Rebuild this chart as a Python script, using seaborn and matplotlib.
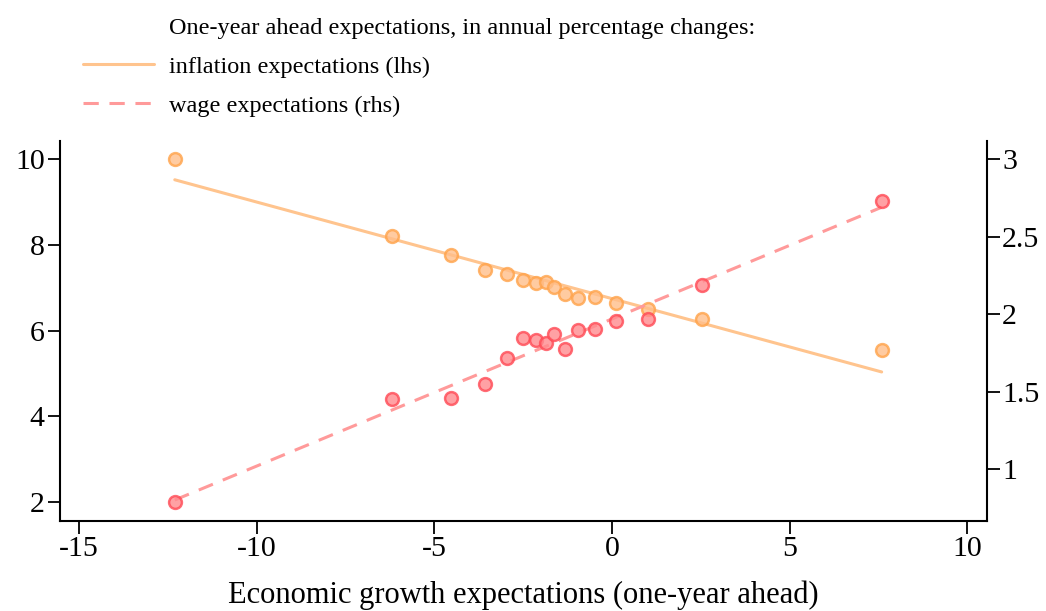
import matplotlib
matplotlib.use("Agg")
import matplotlib.pyplot as plt
import seaborn as sns
import pandas as pd
import numpy as np
from matplotlib.lines import Line2D

growth = [-12.31, -6.20, -4.52, -3.59, -2.97, -2.50, -2.13, -1.85, -1.63, -1.32,
          -0.96, -0.49, 0.12, 1.00, 2.53, 7.59]
inflation = [10.0, 8.21, 7.76, 7.41, 7.31, 7.18, 7.10, 7.14, 7.02, 6.85,
             6.77, 6.79, 6.65, 6.50, 6.28, 5.55]
wages = [0.79, 1.454, 1.458, 1.548, 1.716, 1.845, 1.834, 1.813, 1.871, 1.776,
         1.899, 1.903, 1.957, 1.968, 2.187, 2.733]

title = "One-year ahead expectations, in annual percentage changes:"
label_infl = "inflation expectations (lhs)"
label_wage = "wage expectations (rhs)"
xlabel = "Economic growth expectations (one-year ahead)"

df = pd.DataFrame({"growth": growth, "inflation": inflation, "wages": wages})

sns.set_theme(style="ticks")
plt.rcParams["font.family"] = ["Liberation Serif", "DejaVu Serif"]
plt.rcParams["text.color"] = "black"
plt.rcParams["axes.labelcolor"] = "black"
plt.rcParams["xtick.color"] = "black"
plt.rcParams["ytick.color"] = "black"

fig = plt.figure(figsize=(10.46, 6.11), dpi=100)
ax = fig.add_axes([0.0574, 0.1473, 0.886, 0.622])
ax2 = ax.twinx()

line_orange = "#FFC48E"
line_red = "#FF9A9A"

sns.regplot(data=df, x="growth", y="inflation", ax=ax, ci=None,
            scatter_kws=dict(s=85, facecolor="#FFBE8A", edgecolor="#FFA34A",
                             linewidths=1.8, zorder=3),
            line_kws=dict(color=line_orange, lw=2.2, zorder=2))
sns.regplot(data=df, x="growth", y="wages", ax=ax2, ci=None,
            scatter_kws=dict(s=85, facecolor="#FF8A8E", edgecolor="#FF4A55",
                             linewidths=1.8, zorder=3),
            line_kws=dict(color=line_red, lw=2.2, ls=(0, (5, 3.5)), zorder=2))

ax.set_xlim(-15.54, 10.55)
ax.set_ylim(1.55, 10.43)
ax2.set_ylim(0.667, 3.118)
ax.set_xticks([-15, -10, -5, 0, 5, 10])
ax.set_xticklabels(["-15", "-10", "-5", "0", "5", "10"])
ax.set_yticks([2, 4, 6, 8, 10])
ax2.set_yticks([1, 1.5, 2, 2.5, 3])
ax2.set_yticklabels(["1", "1.5", "2", "2.5", "3"])

ax.set_xlabel(xlabel, fontsize=22, labelpad=13)
ax.set_ylabel("")
ax2.set_ylabel("")

for a in (ax, ax2):
    a.spines["top"].set_visible(False)
    for s in a.spines.values():
        s.set_linewidth(1.5)
        s.set_color("black")
    a.tick_params(axis="both", labelsize=21.5, length=9, width=1.3,
                  colors="black", direction="out", pad=2)
ax2.spines["left"].set_visible(False)
ax.spines["right"].set_visible(False)
ax2.spines["bottom"].set_visible(False)

handles = [Line2D([], [], color="none"),
           Line2D([], [], color=line_orange, lw=2.2),
           Line2D([], [], color=line_red, lw=2.2, ls=(0, (5, 3.5)))]
labels = [title, label_infl, label_wage]
leg = fig.legend(handles, labels, loc="upper left", bbox_to_anchor=(0.058, 1.008),
                 frameon=False, fontsize=17.5, handlelength=2.95, handletextpad=0.6,
                 labelspacing=0.69)

fig.savefig("out.png", dpi=100)
